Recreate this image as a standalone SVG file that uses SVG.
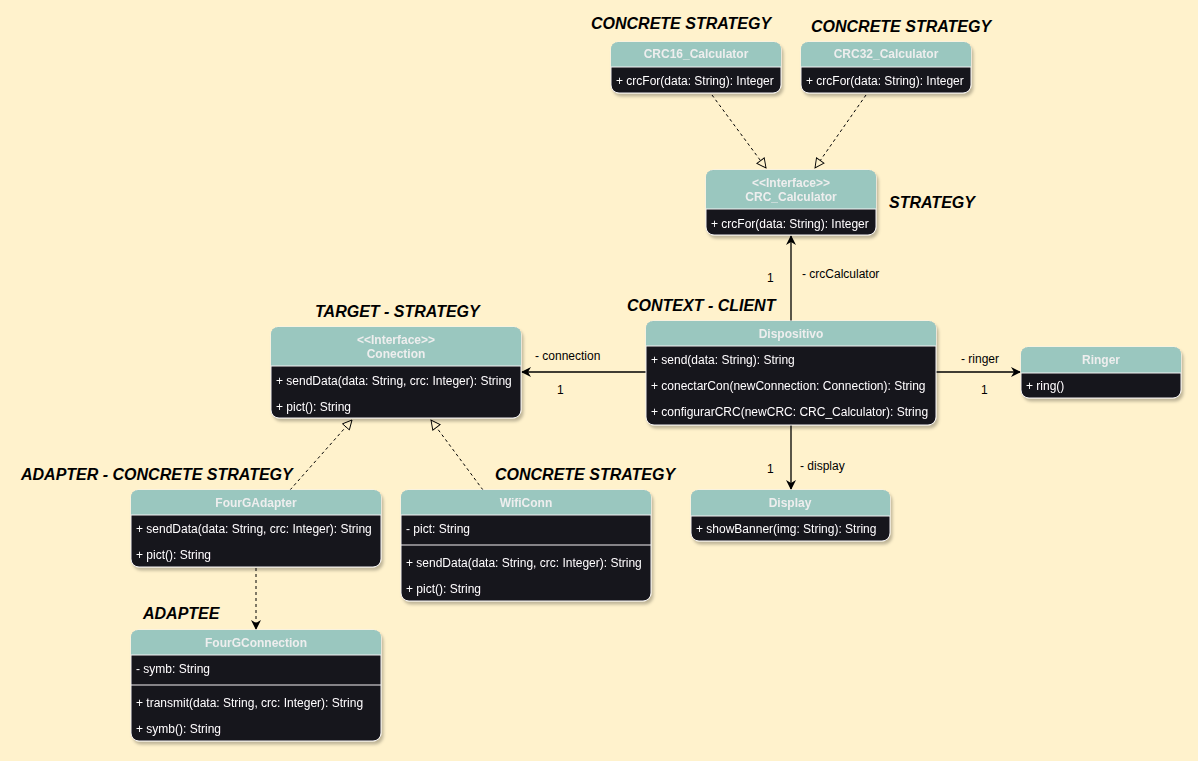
<svg xmlns="http://www.w3.org/2000/svg" width="1198" height="761" viewBox="0 0 1198 761">
<defs>
<style>
.hd{fill:#9AC7BF;}
.bd{fill:#18141D;stroke:#F2F2F2;stroke-width:1;}
.ht{font-family:"Liberation Sans",Arial,sans-serif;font-size:12px;font-weight:bold;fill:#EEEEEE;text-anchor:middle;}
.rt{font-family:"Liberation Sans",Arial,sans-serif;font-size:12px;fill:#FFFFFF;}
.sep{stroke:#F2F2F2;stroke-width:1;}
.lbl{font-family:"Liberation Sans",Arial,sans-serif;font-size:16px;font-weight:bold;font-style:italic;fill:#000000;}
.el{font-family:"Liberation Sans",Arial,sans-serif;font-size:12px;fill:#000000;}
.assoc{stroke:#000000;stroke-width:1.3;fill:none;marker-end:url(#fa);}
.real{stroke:#000000;stroke-width:1;fill:none;stroke-dasharray:3,3;marker-end:url(#ht);}
.dep{stroke:#000000;stroke-width:1;fill:none;stroke-dasharray:3,3;marker-end:url(#fa);}
</style>
<marker id="fa" viewBox="0 0 10 10" refX="9" refY="5" markerWidth="10" markerHeight="10" markerUnits="userSpaceOnUse" orient="auto">
<path d="M0,0 L10,5 L0,10 L3,5 Z" fill="#000000"/>
</marker>
<marker id="ht" viewBox="0 0 12 12" refX="11" refY="6" markerWidth="11" markerHeight="11" markerUnits="userSpaceOnUse" orient="auto">
<path d="M1,1 L11,6 L1,11 Z" fill="#FFF2CC" stroke="#000000" stroke-width="1"/>
</marker>
<filter id="sh" x="-10%" y="-10%" width="130%" height="140%">
<feDropShadow dx="2" dy="3" stdDeviation="1.5" flood-color="#000000" flood-opacity="0.25"/>
</filter>
</defs>
<rect x="0" y="0" width="1198" height="761" fill="#FFF2CC"/>

<g id="connectors">
<path class="real" d="M712,95 L766,168"/>
<path class="real" d="M866,95 L815,168"/>
<path class="assoc" d="M791,321 L791,236"/>
<path class="assoc" d="M646,372 L522,372"/>
<path class="assoc" d="M936,372 L1020,372"/>
<path class="assoc" d="M791,425 L791,489"/>
<path class="real" d="M290,490 L352,420"/>
<path class="real" d="M483,490 L431,420"/>
<path class="dep" d="M256,568 L256,629"/>
<text class="el" x="767" y="282">1</text>
<text class="el" x="802" y="278">- crcCalculator</text>
<text class="el" x="535" y="360">- connection</text>
<text class="el" x="557" y="394">1</text>
<text class="el" x="961" y="363">- ringer</text>
<text class="el" x="981" y="394">1</text>
<text class="el" x="767" y="473">1</text>
<text class="el" x="800" y="470">- display</text>
</g>

<g id="labels">
<text class="lbl" x="591" y="29">CONCRETE STRATEGY</text>
<text class="lbl" x="811" y="32">CONCRETE STRATEGY</text>
<text class="lbl" x="889" y="208">STRATEGY</text>
<text class="lbl" x="627" y="311">CONTEXT - CLIENT</text>
<text class="lbl" x="315" y="317">TARGET - STRATEGY</text>
<text class="lbl" x="21" y="480">ADAPTER - CONCRETE STRATEGY</text>
<text class="lbl" x="495" y="480">CONCRETE STRATEGY</text>
<text class="lbl" x="143" y="619">ADAPTEE</text>
</g>

<g id="CRC16_Calculator" filter="url(#sh)">
<rect class="bd" x="611" y="42" width="170" height="51" rx="8"/>
<path class="hd" d="M611,67 L611,50 Q611,42 619,42 L773,42 Q781,42 781,50 L781,67 Z"/>
<line class="sep" x1="611" y1="67" x2="781" y2="67"/>
<text class="ht" x="696" y="58">CRC16_Calculator</text>
<text class="rt" x="616" y="85">+ crcFor(data: String): Integer</text>
</g>

<g id="CRC32_Calculator" filter="url(#sh)">
<rect class="bd" x="801" y="42" width="170" height="51" rx="8"/>
<path class="hd" d="M801,67 L801,50 Q801,42 809,42 L963,42 Q971,42 971,50 L971,67 Z"/>
<line class="sep" x1="801" y1="67" x2="971" y2="67"/>
<text class="ht" x="886" y="58">CRC32_Calculator</text>
<text class="rt" x="806" y="85">+ crcFor(data: String): Integer</text>
</g>

<g id="CRC_Calculator" filter="url(#sh)">
<rect class="bd" x="706" y="170" width="170" height="65" rx="8"/>
<path class="hd" d="M706,209 L706,178 Q706,170 714,170 L868,170 Q876,170 876,178 L876,209 Z"/>
<line class="sep" x1="706" y1="209" x2="876" y2="209"/>
<text class="ht" x="791" y="187">&lt;&lt;Interface&gt;&gt;</text>
<text class="ht" x="791" y="201">CRC_Calculator</text>
<text class="rt" x="711" y="228">+ crcFor(data: String): Integer</text>
</g>

<g id="Dispositivo" filter="url(#sh)">
<rect class="bd" x="646" y="321" width="290" height="104" rx="8"/>
<path class="hd" d="M646,346 L646,329 Q646,321 654,321 L928,321 Q936,321 936,329 L936,346 Z"/>
<line class="sep" x1="646" y1="346" x2="936" y2="346"/>
<text class="ht" x="791" y="338">Dispositivo</text>
<text class="rt" x="651" y="364">+ send(data: String): String</text>
<text class="rt" x="651" y="390">+ conectarCon(newConnection: Connection): String</text>
<text class="rt" x="651" y="416">+ configurarCRC(newCRC: CRC_Calculator): String</text>
</g>

<g id="Conection" filter="url(#sh)">
<rect class="bd" x="271" y="327" width="250" height="91" rx="8"/>
<path class="hd" d="M271,366 L271,335 Q271,327 279,327 L513,327 Q521,327 521,335 L521,366 Z"/>
<line class="sep" x1="271" y1="366" x2="521" y2="366"/>
<text class="ht" x="396" y="344">&lt;&lt;Interface&gt;&gt;</text>
<text class="ht" x="396" y="358">Conection</text>
<text class="rt" x="276" y="385">+ sendData(data: String, crc: Integer): String</text>
<text class="rt" x="276" y="411">+ pict(): String</text>
</g>

<g id="Ringer" filter="url(#sh)">
<rect class="bd" x="1021" y="347" width="160" height="51" rx="8"/>
<path class="hd" d="M1021,373 L1021,355 Q1021,347 1029,347 L1173,347 Q1181,347 1181,355 L1181,373 Z"/>
<line class="sep" x1="1021" y1="373" x2="1181" y2="373"/>
<text class="ht" x="1101" y="364">Ringer</text>
<text class="rt" x="1026" y="390">+ ring()</text>
</g>

<g id="FourGAdapter" filter="url(#sh)">
<rect class="bd" x="131" y="490" width="250" height="77" rx="8"/>
<path class="hd" d="M131,515 L131,498 Q131,490 139,490 L373,490 Q381,490 381,498 L381,515 Z"/>
<line class="sep" x1="131" y1="515" x2="381" y2="515"/>
<text class="ht" x="256" y="507">FourGAdapter</text>
<text class="rt" x="136" y="533">+ sendData(data: String, crc: Integer): String</text>
<text class="rt" x="136" y="559">+ pict(): String</text>
</g>

<g id="WifiConn" filter="url(#sh)">
<rect class="bd" x="401" y="490" width="250" height="111" rx="8"/>
<path class="hd" d="M401,515 L401,498 Q401,490 409,490 L643,490 Q651,490 651,498 L651,515 Z"/>
<line class="sep" x1="401" y1="515" x2="651" y2="515"/>
<line class="sep" x1="401" y1="545" x2="651" y2="545"/>
<text class="ht" x="526" y="507">WifiConn</text>
<text class="rt" x="406" y="533">- pict: String</text>
<text class="rt" x="406" y="567">+ sendData(data: String, crc: Integer): String</text>
<text class="rt" x="406" y="593">+ pict(): String</text>
</g>

<g id="Display" filter="url(#sh)">
<rect class="bd" x="691" y="490" width="199" height="51" rx="8"/>
<path class="hd" d="M691,516 L691,498 Q691,490 699,490 L882,490 Q890,490 890,498 L890,516 Z"/>
<line class="sep" x1="691" y1="516" x2="890" y2="516"/>
<text class="ht" x="790" y="507">Display</text>
<text class="rt" x="696" y="533">+ showBanner(img: String): String</text>
</g>

<g id="FourGConnection" filter="url(#sh)">
<rect class="bd" x="131" y="630" width="250" height="111" rx="8"/>
<path class="hd" d="M131,655 L131,638 Q131,630 139,630 L373,630 Q381,630 381,638 L381,655 Z"/>
<line class="sep" x1="131" y1="655" x2="381" y2="655"/>
<line class="sep" x1="131" y1="685" x2="381" y2="685"/>
<text class="ht" x="256" y="647">FourGConnection</text>
<text class="rt" x="136" y="673">- symb: String</text>
<text class="rt" x="136" y="707">+ transmit(data: String, crc: Integer): String</text>
<text class="rt" x="136" y="733">+ symb(): String</text>
</g>
</svg>
